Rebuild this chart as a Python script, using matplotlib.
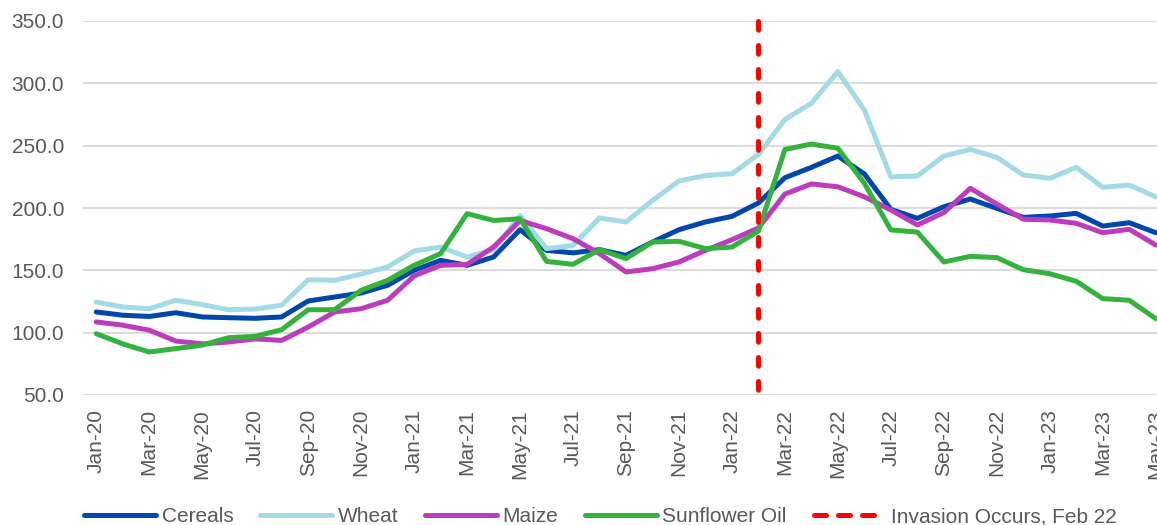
import matplotlib
matplotlib.use("Agg")
import matplotlib.pyplot as plt
from matplotlib.lines import Line2D

months = ["Jan-20", "Feb-20", "Mar-20", "Apr-20", "May-20", "Jun-20", "Jul-20", "Aug-20",
          "Sep-20", "Oct-20", "Nov-20", "Dec-20",
          "Jan-21", "Feb-21", "Mar-21", "Apr-21", "May-21", "Jun-21", "Jul-21", "Aug-21",
          "Sep-21", "Oct-21", "Nov-21", "Dec-21",
          "Jan-22", "Feb-22", "Mar-22", "Apr-22", "May-22", "Jun-22", "Jul-22", "Aug-22",
          "Sep-22", "Oct-22", "Nov-22", "Dec-22",
          "Jan-23", "Feb-23", "Mar-23", "Apr-23", "May-23"]

cereals = [116.6, 114.0, 113.0, 116.0, 112.6, 112.0, 111.5, 112.6, 125.4, 128.6, 131.8, 138.0,
           150.0, 158.0, 154.0, 160.7, 182.6, 166.0, 164.0, 166.6, 162.0, 172.7, 182.6, 188.8,
           193.3, 204.0, 224.3, 232.6, 241.7, 227.3, 198.9, 191.7, 201.0, 207.2, 199.7, 192.5,
           193.6, 195.7, 185.5, 188.2, 180.2]

wheat = [124.6, 120.6, 119.2, 126.0, 122.5, 118.4, 119.0, 122.0, 142.5, 142.0, 147.0, 152.7,
         165.5, 168.7, 160.7, 166.6, 194.0, 167.4, 170.0, 192.0, 188.8, 206.0, 221.7, 226.0,
         227.5, 243.0, 271.0, 284.0, 309.4, 278.6, 225.0, 225.7, 241.7, 247.0, 240.6, 226.5,
         223.8, 232.6, 216.6, 218.4, 209.0]

maize = [108.6, 106.0, 102.0, 93.3, 91.0, 92.5, 95.0, 93.8, 104.5, 116.6, 119.2, 126.0,
         145.5, 154.0, 154.8, 168.7, 190.0, 183.4, 175.4, 163.4, 148.7, 151.3, 156.7, 166.0,
         174.6, 184.0, 211.2, 219.3, 217.0, 209.0, 198.4, 186.4, 196.3, 215.8, 203.2, 191.0,
         190.4, 187.7, 180.2, 182.9, 170.3]

sunflower = [99.2, 91.0, 84.5, 87.2, 90.0, 96.0, 97.0, 102.4, 118.4, 118.4, 134.0, 142.0,
             154.0, 163.4, 195.5, 190.0, 191.4, 157.2, 154.8, 166.6, 159.4, 172.7, 173.3, 167.4,
             168.7, 181.5, 247.0, 251.3, 247.9, 219.8, 182.4, 180.7, 156.7, 161.2, 160.2, 150.5,
             147.3, 141.2, 127.3, 126.0, 111.3]

series_names = ["Cereals", "Wheat", "Maize", "Sunflower Oil"]
invasion_label = "Invasion Occurs, Feb 22"
invasion_month = "Feb-22"
y_min, y_max = 50, 350

colors = ["#0047AB", "#A2DAE8", "#BD3CBD", "#33B33B"]
red = "#FF0000"
text_color = "#595959"

plt.rcParams['font.family'] = ['Liberation Sans', 'DejaVu Sans']

fig = plt.figure(figsize=(11.57, 5.25), dpi=100)
ax = fig.add_axes([83 / 1157, 1 - 395 / 525, 1086 / 1157, (395 - 21) / 525])

x = list(range(len(months)))
lw = 3.6
for vals, c, name in zip([cereals, wheat, maize, sunflower], colors, series_names):
    ax.plot(x, vals, color=c, lw=lw, solid_capstyle='round', solid_joinstyle='round', label=name, zorder=3)

xi = months.index(invasion_month)
ax.plot([xi, xi], [y_max, y_min], color=red, lw=3.6, dashes=(1.75, 3.05),
        dash_capstyle='round', zorder=4, clip_on=False)

ax.set_xlim(-0.5, len(months) - 0.5)
ax.set_ylim(y_min, y_max)
ax.set_yticks([50, 100, 150, 200, 250, 300, 350])
ax.set_yticklabels([f"{v:.1f}" for v in [50, 100, 150, 200, 250, 300, 350]])
ax.set_xticks(x[::2])
ax.set_xticklabels(months[::2], rotation=90)
ax.grid(axis='y', color='#D9D9D9', lw=1.3, zorder=0)
ax.set_axisbelow(True)
for s in ax.spines.values():
    s.set_visible(False)
ax.tick_params(axis='both', length=0, labelsize=15, colors=text_color)
ax.tick_params(axis='y', pad=13.5)
ax.tick_params(axis='x', pad=10)

handles = [Line2D([0], [0], color=c, lw=lw, solid_capstyle='round') for c in colors]
handles.append(Line2D([0], [0], color=red, lw=3.6, dashes=(2.4, 2.4), dash_capstyle='round'))
labels = series_names + [invasion_label]
leg = fig.legend(handles, labels, loc='center', bbox_to_anchor=(0.519, 0.016), ncol=5,
                 frameon=False, fontsize=15, handlelength=3.45, handletextpad=0.25,
                 columnspacing=1.3, borderaxespad=0, borderpad=0)
for t in leg.get_texts():
    t.set_color(text_color)

fig.savefig("out.png", dpi=100)
